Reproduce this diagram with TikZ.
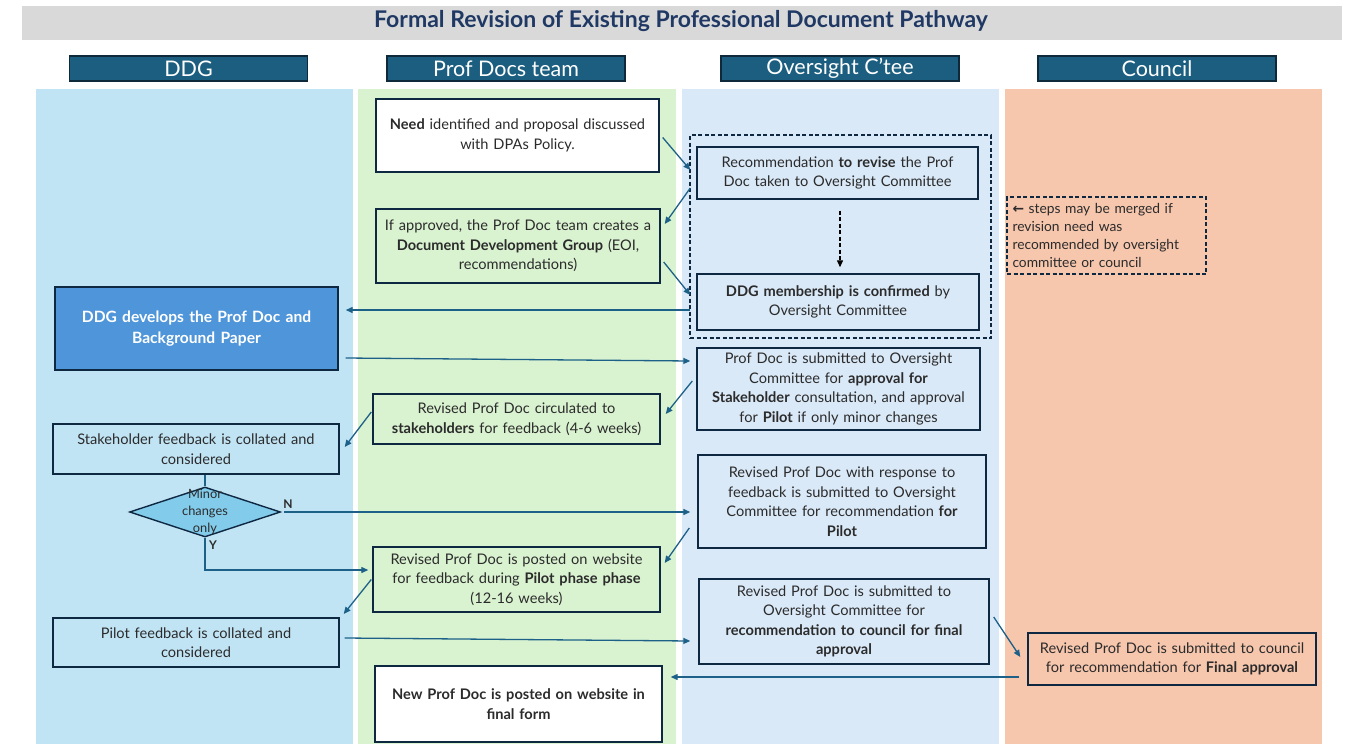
\documentclass[tikz,border=0pt]{standalone}
\usepackage{fontspec}
\setmainfont{Lato}
\newfontfamily\symfont{DejaVu Sans}
\usetikzlibrary{arrows.meta,shapes.geometric,calc}
\definecolor{titlebar}{HTML}{D9D9D9}
\definecolor{titletxt}{HTML}{1F3864}
\definecolor{hdrfill}{HTML}{1B5E80}
\definecolor{hdrline}{HTML}{0E2A3A}
\definecolor{laneddg}{HTML}{C1E4F5}
\definecolor{laneprof}{HTML}{D9F2D0}
\definecolor{laneover}{HTML}{DAE9F8}
\definecolor{lanecoun}{HTML}{F6C6AD}
\definecolor{boxline}{HTML}{0E2841}
\definecolor{txt}{HTML}{2B2B2B}
\definecolor{devfill}{HTML}{4E95D9}
\definecolor{diafill}{HTML}{83CBEB}
\definecolor{arrcol}{HTML}{1D6189}
\begin{document}
\begin{tikzpicture}[x=1pt,y=-1pt,
  box/.style={draw=boxline, line width=1.4pt, text=txt, align=center, inner sep=0pt,
    font=\fontsize{14.6}{19.5}\selectfont},
  hdr/.style={draw=hdrline, line width=1.2pt, fill=hdrfill, text=white, minimum width=238,
    minimum height=25, inner sep=0pt, font=\fontsize{21.5}{22}\selectfont},
  dashbox/.style={draw=boxline, line width=1.4pt, dash pattern=on 4pt off 2.5pt},
  arr/.style={draw=arrcol, line width=1.3pt, -{Triangle[length=7pt,width=6pt]}},
  lbl/.style={font=\fontsize{12}{13}\selectfont\bfseries, text=txt, inner sep=0pt}]
\useasboundingbox (0,0) rectangle (1355,744);
\fill[white] (0,0) rectangle (1355,744);
% title
\fill[titlebar] (22,6) rectangle (1342,40);
\node[font=\fontsize{23}{24}\selectfont\bfseries, text=titletxt, inner sep=0pt] (title) at (681,21) {Formal Revision of Existing Professional Document Pathway};
% headers
\node[hdr] (hddg) at (188.5,68.5) {DDG};
\node[hdr] (hprof) at (506,68.5) {Prof Docs team};
\node[hdr] (hover) at (840,68.5) {Oversight C’tee};
\node[hdr] (hcoun) at (1157,68.5) {Council};
% lanes
\fill[laneddg] (36,89) rectangle (353,744);
\fill[laneprof] (358,89) rectangle (676,744);
\fill[laneover] (682,89) rectangle (999,744);
\fill[lanecoun] (1005,89) rectangle (1322,744);
% nodes
\node[box, fill=white, minimum width=283, minimum height=73, text width=278] (need) at (517.5,135.5)
  {\textbf{Need} identified and proposal discussed\\with DPAs Policy.};
\node[box, fill=laneprof, minimum width=284, minimum height=74, text width=278] (create) at (518,246)
  {If approved, the Prof Doc team creates a\\\textbf{Document Development Group} (EOI,\\recommendations)};
\node[dashbox, minimum width=301, minimum height=203, inner sep=0pt] (group) at (840.5,236.5) {};
\node[box, fill=laneover, minimum width=281, minimum height=52, text width=278] (revise) at (837.5,173)
  {Recommendation \textbf{to revise} the Prof\\Doc taken to Oversight Committee};
\node[box, fill=laneover, minimum width=282, minimum height=56, text width=278] (confirm) at (838,302)
  {\textbf{DDG membership is confirmed} by\\Oversight Committee};
\node[dashbox, fill=lanecoun, minimum width=199, minimum height=77, text width=188, align=left,
  inner sep=0pt, text=txt, font=\fontsize{13.8}{18}\selectfont] (note) at (1106.5,235.5)
  {{\symfont\bfseries ←} steps may be merged if\\revision need was\\recommended by oversight\\committee or council};
\node[box, fill=devfill, text=white, font=\fontsize{15.6}{21}\selectfont\bfseries, minimum width=283,
  minimum height=83, text width=278] (develop) at (196.5,328.5)
  {DDG develops the Prof Doc and\\Background Paper};
\node[box, fill=laneover, minimum width=283, minimum height=82, text width=282] (sub1) at (838.5,389)
  {Prof Doc is submitted to Oversight\\Committee for \textbf{approval for}\\\textbf{Stakeholder} consultation, and approval\\for \textbf{Pilot} if only minor changes};
\node[box, fill=laneprof, minimum width=287, minimum height=50, text width=282] (circ) at (516.5,419)
  {Revised Prof Doc circulated to\\\textbf{stakeholders} for feedback (4-6 weeks)};
\node[box, fill=laneddg, minimum width=286, minimum height=50, text width=282] (skfb) at (196,449)
  {Stakeholder feedback is collated and\\considered};
\node[diamond, draw=boxline, line width=1.4pt, fill=diafill, minimum width=151, minimum height=50,
  inner sep=0pt, aspect=3] (minor) at (205,512) {};
\node[text=txt, align=center, font=\fontsize{12.8}{17}\selectfont, inner sep=0pt] (minortxt) at (205,512)
  {Minor\\changes\\only};
\node[box, fill=laneover, minimum width=288, minimum height=93, text width=282] (sub2) at (842,501.5)
  {Revised Prof Doc with response to\\feedback is submitted to Oversight\\Committee for recommendation \textbf{for}\\\textbf{Pilot}};
\node[box, fill=laneprof, minimum width=287, minimum height=65, text width=282] (pilot) at (516.5,579.5)
  {Revised Prof Doc is posted on website\\for feedback during \textbf{Pilot phase phase}\\(12-16 weeks)};
\node[box, fill=laneddg, minimum width=286, minimum height=49, text width=282] (pilotfb) at (196,642.5)
  {Pilot feedback is collated and\\considered};
\node[box, fill=laneover, minimum width=290, minimum height=85, text width=284] (sub3) at (844,621.5)
  {Revised Prof Doc is submitted to\\Oversight Committee for\\\textbf{recommendation to council for final}\\\textbf{approval}};
\node[box, fill=lanecoun, minimum width=288, minimum height=52, text width=284] (council) at (1172,659)
  {Revised Prof Doc is submitted to council\\for recommendation for \textbf{Final approval}};
\node[box, fill=white, font=\fontsize{14.6}{20}\selectfont\bfseries, minimum width=287, minimum height=76,
  text width=282] (newdoc) at (518.5,704)
  {New Prof Doc is posted on website in\\final form};
% connectors
\draw[arr] ([xshift=3pt,yshift=-2pt]need.east) -- ([xshift=-6pt,yshift=3pt]revise.west);
\draw[arr] ([xshift=-6pt,yshift=-15pt]revise.west) -- ([xshift=4pt,yshift=22pt]create.east);
\draw[arr] ([xshift=3pt,yshift=-16pt]create.east) -- ([xshift=-6pt,yshift=7pt]confirm.west);
\draw[arr] ([xshift=-6pt,yshift=-8pt]confirm.west) coordinate (c1) -- ([xshift=7pt]develop.east |- c1);
\draw[draw=black, line width=1.3pt, dash pattern=on 4pt off 2.5pt, -{Triangle[length=7pt,width=6pt]}]
  ([xshift=2.5pt,yshift=-11pt]revise.south) -- ([xshift=2pt,yshift=6pt]confirm.north);
\draw[arr] ([xshift=7pt,yshift=-29.5pt]develop.east) -- ([xshift=-6pt,yshift=28pt]sub1.west);
\draw[arr] ([xshift=-4pt,yshift=8pt]sub1.west) -- ([xshift=5pt,yshift=5pt]circ.east);
\draw[arr] ([xshift=-1pt,yshift=7pt]circ.west) -- ([xshift=5pt,yshift=2pt]skfb.east);
\draw[draw=arrcol, line width=1.3pt] (minor.north |- skfb.south) -- (minor.north);
\draw[arr] ([xshift=3pt]minor.east) -- ([xshift=-7pt]sub2.west |- minor.east);
\node[lbl, anchor=south west] (nlbl) at ([xshift=2pt,yshift=3pt]minor.east) {N};
\draw[arr] (minor.south) |- ([xshift=-4pt,yshift=9.5pt]pilot.west);
\node[lbl, anchor=north west] (ylbl) at ([xshift=4pt,yshift=-3pt]minor.south) {Y};
\draw[arr] ([xshift=-8pt,yshift=-26.5pt]sub2.west) -- ([xshift=4pt,yshift=16.5pt]pilot.east);
\draw[arr] ([xshift=-1pt]pilot.west) -- ([xshift=4pt,yshift=28.5pt]pilotfb.east);
\draw[arr] ([xshift=5pt,yshift=4.5pt]pilotfb.east) -- ([xshift=-8pt,yshift=-19.5pt]sub3.west);
\draw[arr] ([xshift=4pt,yshift=4.5pt]sub3.east) -- ([xshift=-7pt,yshift=2pt]council.west);
\draw[arr] ([xshift=-8pt,yshift=-18pt]council.west) coordinate (c2) -- ([xshift=8pt]newdoc.east |- c2);
\end{tikzpicture}
\end{document}
